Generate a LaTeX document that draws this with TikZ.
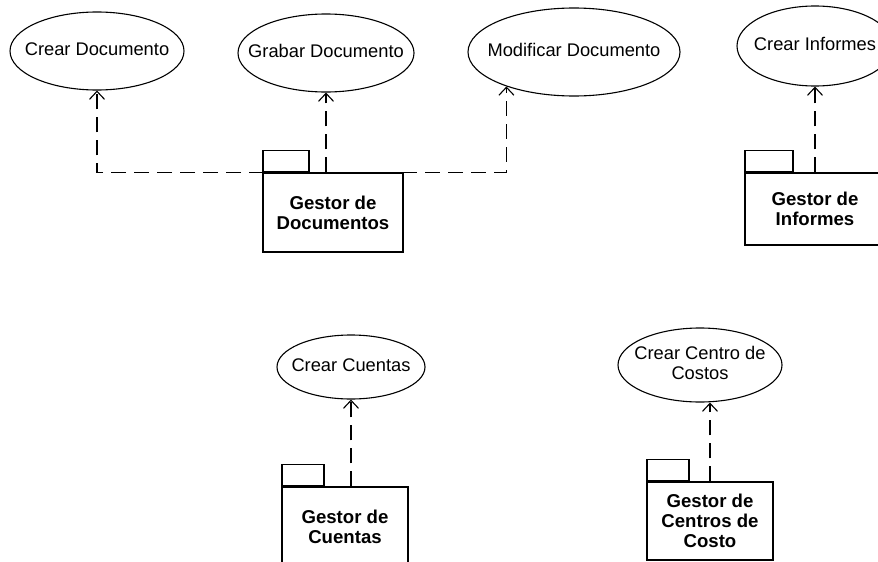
\documentclass[tikz,border=0pt]{standalone}
\usepackage{fontspec}
\setmainfont{Liberation Sans}
\usetikzlibrary{shapes.geometric,arrows.meta}
% use-case label: zero-width box so the ellipse size is set by its minimum size only
\newcommand{\uctext}[1]{\makebox[0pt]{\begin{tabular}{@{}c@{}}#1\end{tabular}}}
\begin{document}
\begin{tikzpicture}[x=1pt,y=-1pt,
  usecase/.style={ellipse,draw,line width=1.1pt,inner sep=0pt,
    font=\fontsize{18.3}{20}\selectfont},
  pkg/.style={rectangle,draw,line width=1.1pt,fill=white,inner sep=0pt,align=center,
    font=\bfseries\fontsize{18.6}{20}\selectfont},
  pkgtab/.style={rectangle,draw,line width=1.1pt,fill=white,anchor=south west,
    minimum height=21pt,inner sep=0pt},
  dep/.style={draw,line width=1.1pt,dash pattern=on 15pt off 8pt,
    -{Straight Barb[length=8pt,width=15pt]}}]
\clip (0,0) rectangle (878,562);
\fill[white] (0,0) rectangle (878,562);

% use cases
\node[usecase,minimum width=174pt,minimum height=78pt] (crearDoc) at (97,51) {\uctext{Crear Documento}};
\node[usecase,minimum width=176pt,minimum height=78pt] (grabDoc) at (326,53) {\uctext{Grabar Documento}};
\node[usecase,minimum width=212pt,minimum height=88pt] (modDoc) at (574,52) {\uctext{Modificar Documento}};
\node[usecase,minimum width=156pt,minimum height=80pt] (crearInf) at (815,46) {\uctext{Crear Informes}};
\node[usecase,minimum width=148pt,minimum height=64pt] (crearCu) at (351,367) {\uctext{Crear Cuentas}};
\node[usecase,minimum width=164pt,minimum height=74pt] (crearCC) at (700,365) {\uctext{Crear Centro de\\Costos}};

% packages
\node[pkg,minimum width=140pt,minimum height=79pt] (docPkg) at (333,212.5) {Gestor de\\Documentos};
\node[pkgtab,minimum width=46pt] (docTab) at (docPkg.north west) {};
\node[pkg,minimum width=140pt,minimum height=72pt] (infPkg) at (815,209) {Gestor de\\Informes};
\node[pkgtab,minimum width=48pt] (infTab) at (infPkg.north west) {};
\node[pkg,minimum width=126pt,minimum height=80pt] (cuPkg) at (345,527) {Gestor de\\Cuentas};
\node[pkgtab,minimum width=42pt] (cuTab) at (cuPkg.north west) {};
\node[pkg,minimum width=126pt,minimum height=78pt] (ccPkg) at (710,521) {Gestor de\\Centros de\\Costo};
\node[pkgtab,minimum width=42pt] (ccTab) at (ccPkg.north west) {};

% dependencies
\draw[dep] (docPkg.north) -| (crearDoc.south);
\draw[dep] (docPkg.north) -| (modDoc.207);
\draw[dep] (grabDoc.south |- docPkg.north) -- (grabDoc.south);
\draw[dep] (infPkg.north) -- (crearInf.south);
\draw[dep] (crearCu.south |- cuPkg.north) -- (crearCu.south);
\draw[dep] (ccPkg.north) -- (ccPkg.north |- crearCC.south);
\end{tikzpicture}
\end{document}
